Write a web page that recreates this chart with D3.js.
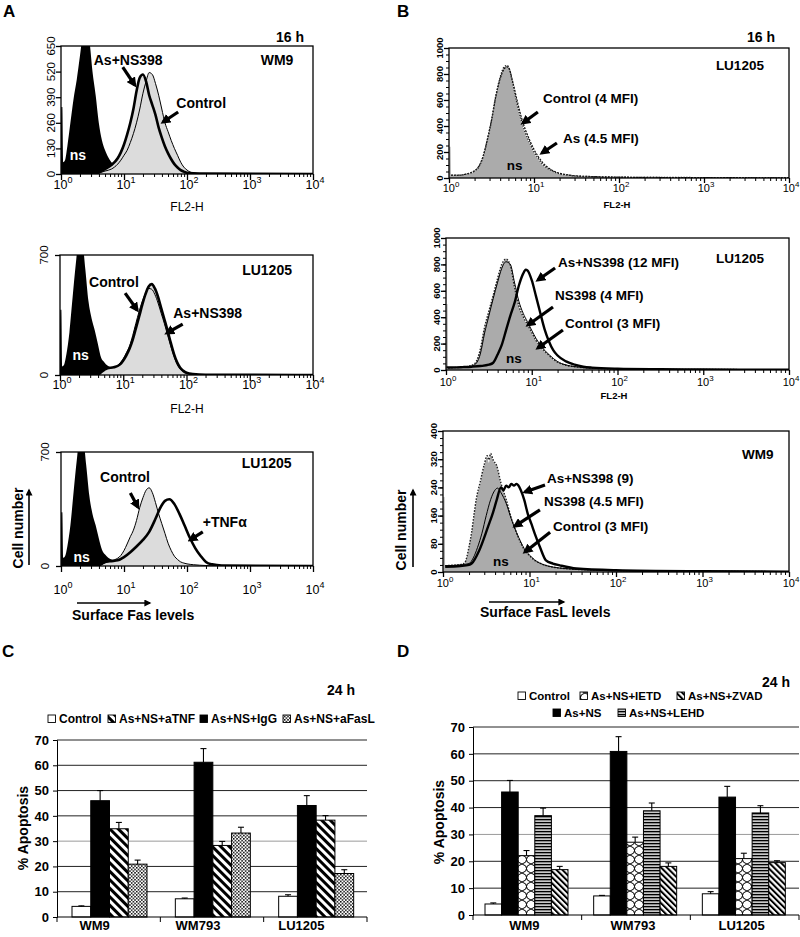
<!DOCTYPE html>
<html><head><meta charset="utf-8">
<script src="https://cdn.jsdelivr.net/npm/d3@7"></script>
<style>
body{margin:0;background:#fff}
svg{display:block}
text{font-family:"Liberation Sans",Arial,Helvetica,sans-serif}
</style>
</head><body>
<svg id="c" width="800" height="937"></svg>
<script>
// ---------------- DATA ----------------
// Flow cytometry histograms: [FL2-H value, cell count]
const a1_ns = [[1,0],[1.01,340],[1.05,340],[1.08,60],[1.16,70],[1.26,140],[1.41,260],[1.58,380],[1.78,480],[2.0,600],[2.24,720],[2.51,760],[2.82,680],[3.16,520],[3.55,400],[3.98,260],[4.47,170],[5.01,120],[5.62,85],[6.31,60],[7.08,45],[7.94,30],[8.91,20],[10,12],[11.2,6],[12.6,0]];
const a1_control = [[3.16,0],[3.98,5],[5.01,15],[6.31,25],[7.94,50],[8.91,70],[10,95],[11.2,120],[12.6,160],[14.1,205],[15.8,260],[17.8,330],[20,410],[22.4,470],[25.1,515],[28.2,505],[31.6,460],[35.5,400],[39.8,330],[44.7,260],[50.1,215],[56.2,170],[63.1,130],[70.8,95],[79.4,60],[89.1,35],[100,20],[112,10],[126,5],[158,2],[251,1],[10000,0]];
const a1_asns = [[3.16,0],[3.98,8],[5.01,25],[6.31,45],[7.94,80],[8.91,110],[10,150],[11.2,200],[12.6,260],[14.1,330],[15.8,420],[17.8,490],[20,505],[22.4,470],[25.1,400],[28.2,350],[31.6,300],[35.5,235],[39.8,185],[44.7,140],[50.1,105],[56.2,75],[63.1,50],[70.8,33],[79.4,20],[89.1,12],[100,6],[158,2],[10000,0]];

const a2_ns = [[1,0],[1.01,380],[1.05,380],[1.08,50],[1.16,60],[1.26,120],[1.41,250],[1.58,450],[1.78,650],[2.0,800],[2.24,780],[2.51,620],[2.82,430],[3.16,330],[3.55,260],[3.98,180],[4.47,100],[5.01,75],[5.62,55],[6.31,45],[7.08,38],[7.94,30],[8.91,20],[10,10],[11.2,0]];
const a2_control = [[3.98,0],[5.01,30],[5.62,40],[7.08,45],[8.91,70],[10,95],[11.2,130],[12.6,170],[14.1,230],[15.8,300],[17.8,370],[20,430],[22.4,475],[25.1,505],[28.2,500],[31.6,470],[35.5,420],[39.8,360],[44.7,300],[50.1,235],[56.2,170],[63.1,110],[70.8,65],[79.4,35],[89.1,20],[100,10],[126,4],[200,1],[10000,0]];
const a2_asns = [[3.98,0],[5.01,30],[5.62,40],[7.08,45],[8.91,62],[10,85],[11.2,115],[12.6,155],[14.1,205],[15.8,270],[17.8,340],[20,410],[22.4,470],[25.1,515],[28.2,530],[31.6,505],[35.5,455],[39.8,390],[44.7,325],[50.1,260],[56.2,190],[63.1,125],[70.8,75],[79.4,42],[89.1,24],[100,13],[126,5],[200,1],[10000,0]];

const a3_ns = [[1,0],[1.01,330],[1.05,330],[1.08,50],[1.16,60],[1.26,120],[1.41,250],[1.58,450],[1.78,650],[2.0,800],[2.24,780],[2.51,620],[2.82,430],[3.16,320],[3.55,250],[3.98,170],[4.47,100],[5.01,70],[5.62,50],[6.31,40],[7.08,35],[7.94,28],[8.91,18],[10,8],[11.2,0]];
const a3_control = [[3.98,0],[5.01,20],[6.31,30],[7.08,38],[8.91,65],[10,95],[11.2,135],[12.6,180],[14.1,220],[15.8,280],[17.8,360],[20,420],[22.4,465],[25.1,480],[28.2,450],[31.6,390],[35.5,320],[39.8,260],[44.7,200],[50.1,140],[56.2,95],[63.1,60],[70.8,40],[79.4,25],[89.1,18],[100,13],[126,8],[158,5],[200,3],[251,1],[10000,0]];
const a3_tnf = [[3.98,0],[5.01,25],[6.31,30],[7.94,35],[10,55],[12.6,85],[15.8,120],[20,160],[25.1,210],[31.6,290],[38,360],[44.7,400],[52.5,410],[63.1,380],[75.9,320],[91.2,250],[112,170],[135,110],[166,60],[200,25],[251,10],[355,3],[10000,0]];

const b1_ns = [[1,0],[1.01,240],[1.04,240],[1.06,20],[1.26,20],[1.58,28],[2.0,50],[2.24,80],[2.51,150],[2.82,280],[3.16,430],[3.55,620],[3.98,760],[4.47,850],[4.79,860],[5.01,850],[5.62,720],[6.31,560],[7.08,430],[7.94,330],[8.91,260],[10,190],[11.2,140],[12.6,100],[14.1,75],[15.8,55],[17.8,40],[20,30],[25.1,20],[31.6,14],[50.1,10],[100,6],[316,4],[1000,3],[10000,1]];
const b1_control = [[1.06,20],[1.26,20],[1.58,30],[2.0,55],[2.24,85],[2.51,160],[2.82,290],[3.16,440],[3.55,630],[3.98,770],[4.47,855],[4.79,865],[5.01,855],[5.62,730],[6.31,575],[7.08,445],[7.94,345],[8.91,270],[10,200],[11.2,150],[12.6,108],[14.1,80],[15.8,60],[17.8,44],[20,33],[25.1,22],[31.6,15],[50.1,10],[100,6],[316,4],[1000,3],[10000,1]];
const b1_as = [[1.06,22],[1.26,22],[1.58,30],[2.0,55],[2.24,90],[2.51,165],[2.82,295],[3.16,445],[3.55,625],[3.98,760],[4.47,840],[4.79,855],[5.01,850],[5.62,740],[6.31,600],[7.08,470],[7.94,370],[8.91,290],[10,220],[11.2,165],[12.6,120],[14.1,88],[15.8,65],[17.8,48],[20,36],[25.1,24],[31.6,16],[50.1,11],[100,7],[316,4],[1000,3],[10000,1]];

const b2_ns = [[1,0],[1.01,500],[1.04,500],[1.06,15],[1.26,18],[1.58,22],[2.0,35],[2.19,50],[2.51,150],[2.82,320],[3.16,440],[3.55,560],[3.98,680],[4.47,790],[5.01,835],[5.62,790],[6.31,620],[7.08,480],[7.94,400],[8.91,340],[10,280],[11.2,220],[12.6,175],[14.1,140],[15.8,110],[17.8,80],[20,58],[25.1,35],[31.6,24],[50.1,14],[100,8],[316,5],[1000,4],[10000,2]];
const b2_control = [[1.06,15],[1.26,18],[1.58,22],[2.0,36],[2.19,52],[2.51,155],[2.82,325],[3.16,445],[3.55,565],[3.98,690],[4.47,800],[5.01,840],[5.62,795],[6.31,625],[7.08,485],[7.94,405],[8.91,345],[10,285],[11.2,225],[12.6,180],[14.1,143],[15.8,112],[17.8,82],[20,60],[25.1,36],[31.6,25],[50.1,14],[100,8],[316,5],[1000,4],[10000,2]];
const b2_ns398 = [[1.06,15],[1.26,18],[1.58,22],[2.0,30],[2.19,42],[2.51,120],[2.82,280],[3.16,410],[3.55,540],[3.98,660],[4.47,770],[5.01,820],[5.62,800],[6.31,660],[7.08,520],[7.94,430],[8.91,365],[10,300],[11.2,240],[12.6,190],[14.1,150],[15.8,118],[17.8,88],[20,64],[25.1,38],[31.6,26],[50.1,15],[100,9],[316,5],[1000,4],[10000,2]];
const b2_asns = [[1.01,20],[1.26,20],[1.58,22],[2.0,25],[2.51,30],[3.16,40],[3.55,55],[3.98,115],[4.47,190],[5.01,300],[5.62,410],[6.31,510],[7.08,640],[7.94,730],[8.51,760],[8.91,755],[10,680],[11.2,560],[12.6,430],[14.1,310],[15.8,220],[17.8,150],[20,110],[25.1,65],[31.6,40],[39.8,25],[50.1,18],[100,10],[316,6],[1000,4],[10000,2]];

const b3_ns = [[1,0],[1.01,213],[1.04,213],[1.06,18],[1.26,19],[1.58,20],[1.78,24],[2.0,70],[2.14,109],[2.29,160],[2.43,204],[2.69,250],[3.0,300],[3.24,325],[3.39,310],[3.55,332],[3.8,315],[4.17,300],[4.68,250],[5.37,204],[6.17,150],[7.08,109],[7.94,80],[8.71,62],[10,45],[11.5,32],[13.2,24],[15.8,18],[18.6,14],[25.1,10],[50.1,6],[100,4],[1000,2],[10000,1]];
const b3_control = [[1.06,18],[1.26,19],[1.58,21],[1.78,26],[2.0,72],[2.14,112],[2.29,165],[2.43,208],[2.69,255],[3.0,305],[3.24,330],[3.39,318],[3.55,336],[3.8,318],[4.17,302],[4.68,252],[5.37,206],[6.17,152],[7.08,111],[7.94,82],[8.71,63],[10,46],[11.5,33],[13.2,25],[15.8,18],[18.6,14],[25.1,10],[50.1,6],[100,4],[1000,2],[10000,1]];
const b3_ns398 = [[1.06,18],[1.58,20],[2.0,24],[2.24,40],[2.51,70],[2.82,110],[3.16,160],[3.55,205],[3.98,232],[4.27,238],[4.68,225],[5.37,195],[6.17,150],[7.08,112],[7.94,85],[8.71,66],[10,48],[11.5,34],[13.2,25],[15.8,18],[18.6,14],[25.1,10],[50.1,6],[100,4],[1000,2],[10000,1]];
const b3_asns = [[1.06,15],[1.58,17],[2.0,20],[2.14,24],[2.63,62],[3.31,128],[3.8,170],[4.17,204],[4.68,240],[5.01,232],[5.37,245],[5.75,240],[6.17,250],[6.61,245],[7.08,250],[7.41,246],[7.94,232],[8.71,204],[9.55,165],[10.5,137],[11.5,109],[13.2,71],[15.5,33],[18.6,24],[22.4,19],[34.7,10],[100,5],[1000,2],[10000,1]];

const xDecades = [1,10,100,1000,10000];
const a1_yTicks = [0,130,260,390,520,650];
const a23_yTicks = [0,700];
const b12_yTicks = [0,200,400,600,800,1000];
const b3_yTicks = [0,80,160,240,320,400];

// Bar charts (% apoptosis)
const categories = ["WM9","WM793","LU1205"];
const cControl = [4.2,7.2,8.2],   cControlErr = [0.2,0.3,0.6];
const cIgG     = [46,61.2,44.1],  cIgGErr     = [4,5.4,3.9];
const cATNF    = [34.9,28.3,38.3],cATNFErr    = [2.5,1.6,1.8];
const cAFasL   = [20.9,33.2,17.2],cAFasLErr   = [1.6,2.3,1.5];

const dControl = [4.1,7.1,7.9],   dControlErr = [0.4,0.2,0.8];
const dAsNS    = [45.8,60.9,43.9],dAsNSErr    = [4.3,5.5,4.0];
const dIETD    = [22.1,27.1,21.0],dIETDErr    = [1.9,1.9,2.0];
const dLEHD    = [37.0,38.8,38.0],dLEHDErr    = [2.8,2.9,2.7];
const dZVAD    = [16.9,18.1,19.5],dZVADErr    = [1.2,1.3,0.7];
const pctTicks = [0,10,20,30,40,50,60,70];

// ---------------- DRAWING ----------------
const svg = d3.select("#c");
const defs = svg.append("defs");
defs.append("marker").attr("id","ah").attr("viewBox","0 0 10 10")
  .attr("refX",7).attr("refY",5).attr("markerWidth",10).attr("markerHeight",10)
  .attr("markerUnits","userSpaceOnUse").attr("orient","auto")
  .append("path").attr("d","M0,0 L10,5 L0,10 Z").attr("fill","#000");

function pattern(id,w,h,bg,transform,build){
  const p = defs.append("pattern").attr("id",id).attr("patternUnits","userSpaceOnUse")
    .attr("width",w).attr("height",h);
  if (transform) p.attr("patternTransform",transform);
  p.append("rect").attr("width",w).attr("height",h).attr("fill",bg);
  build(p);
}
pattern("pTNF",6,6,"#fff","rotate(-45)",p=>p.append("rect").attr("width",3).attr("height",6).attr("fill","#000"));
pattern("pDot",3.4,3.4,"#fff",null,p=>{
  p.append("rect").attr("x",0).attr("y",0).attr("width",1.5).attr("height",1.5).attr("fill","#000");
  p.append("rect").attr("x",1.7).attr("y",1.7).attr("width",1.5).attr("height",1.5).attr("fill","#000");
});
pattern("pIETD",9,9,"#fff",null,p=>p.append("path")
  .attr("d","M0,0 Q5,1.5 4.5,4.5 Q4,7.5 9,9 M9,0 Q4,1.5 4.5,4.5 Q5,7.5 0,9")
  .attr("fill","none").attr("stroke","#000").attr("stroke-width",1));
pattern("pHor",4,3,"#c8c8c8",null,p=>p.append("rect").attr("width",4).attr("height",1.3).attr("fill","#000"));
pattern("pZV",4.2,4.2,"#fff","rotate(-45)",p=>p.append("rect").attr("width",2).attr("height",4.2).attr("fill","#000"));

let clipN = 0;
function drawFlow(L, layers, notes, arrows){
  const x = d3.scaleLog().domain([1,1e4]).range([L.x0,L.x1]);
  const y = d3.scaleLinear().domain([0,L.ymax]).range([L.y1,L.y0]);
  const id = "clip"+(clipN++);
  defs.append("clipPath").attr("id",id).append("rect")
    .attr("x",L.x0).attr("y",L.y0).attr("width",L.x1-L.x0).attr("height",L.y1-L.y0);
  const g = svg.append("g");
  const pg = g.append("g").attr("clip-path",`url(#${id})`);
  const area = d3.area().x(d=>x(d[0])).y0(y(0)).y1(d=>y(d[1])).curve(d3.curveMonotoneX);
  const line = d3.line().x(d=>x(d[0])).y(d=>y(d[1])).curve(d3.curveMonotoneX);
  layers.filter(l=>l.fill).forEach(l=>pg.append("path").attr("d",area(l.data)).attr("fill",l.fill));
  layers.filter(l=>l.stroke).forEach(l=>pg.append("path").attr("d",line(l.data))
    .attr("fill","none").attr("stroke",l.stroke).attr("stroke-width",l.width)
    .attr("stroke-dasharray",l.dash||null).attr("stroke-linejoin","round"));
  g.append("rect").attr("x",L.x0).attr("y",L.y0).attr("width",L.x1-L.x0).attr("height",L.y1-L.y0)
    .attr("fill","none").attr("stroke","#000").attr("stroke-width",1.3);
  // x axis ticks
  const minor = x.ticks().filter(v=>!xDecades.includes(v));
  g.append("g").attr("transform",`translate(0,${L.y1})`)
    .call(d3.axisBottom(x).tickValues(minor).tickSize(L.minorLen).tickFormat(""))
    .call(s=>s.select(".domain").remove()).selectAll("line").attr("stroke-width",1);
  g.append("g").attr("transform",`translate(0,${L.y1})`)
    .call(d3.axisBottom(x).tickValues(xDecades).tickSize(L.majorLen).tickFormat(""))
    .call(s=>s.select(".domain").remove()).selectAll("line").attr("stroke-width",1.3);
  xDecades.forEach((v,i)=>{
    const t = g.append("text").attr("x",x(v)+2).attr("y",L.y1+L.xLabOff)
      .attr("text-anchor","middle").attr("font-size",L.tickFs).attr("fill","#000");
    t.append("tspan").text("10");
    t.append("tspan").attr("dy",-L.tickFs*0.45).attr("font-size",L.tickFs*0.72).text(i);
  });
  // y axis
  if (L.yMinor){
    g.append("g").attr("transform",`translate(${L.x0},0)`)
      .call(d3.axisLeft(y).tickValues(d3.range(0,L.ymax+0.1,L.yMinor)).tickSize(3).tickFormat(""))
      .call(s=>s.select(".domain").remove());
  }
  g.append("g").attr("transform",`translate(${L.x0},0)`)
    .call(d3.axisLeft(y).tickValues(L.yTicks).tickSize(5).tickFormat(""))
    .call(s=>s.select(".domain").remove()).selectAll("line").attr("stroke-width",1.3);
  L.yTicks.forEach(v=>{
    g.append("text").attr("transform",`translate(${L.x0-L.yLabOff},${y(v)}) rotate(-90)`)
      .attr("text-anchor","middle").attr("font-size",L.yFs).attr("font-weight",L.yFw)
      .text(v);
  });
  if (L.fl2h){
    g.append("text").attr("x",L.fl2h[0]).attr("y",L.fl2h[1]).attr("text-anchor","middle")
      .attr("font-size",L.fl2hFs).attr("font-weight",L.fl2hFw).text("FL2-H");
  }
  notes.forEach(n=>{
    g.append("text").attr("x",x(n.x)).attr("y",y(n.y)).attr("font-size",n.fs||L.noteFs)
      .attr("font-weight","bold").attr("fill",n.fill||"#000").text(n.t);
  });
  arrows.forEach(a=>{
    g.append("line").attr("x1",x(a[0][0])).attr("y1",y(a[0][1]))
      .attr("x2",x(a[1][0])).attr("y2",y(a[1][1]))
      .attr("stroke","#000").attr("stroke-width",3.2).attr("marker-end","url(#ah)");
  });
}

const baseA = {minorLen:3, majorLen:6, tickFs:12.5, yFs:11.5, yFw:"normal", noteFs:14, fl2hFs:12, fl2hFw:"normal"};
const baseB = {minorLen:3, majorLen:5, tickFs:11, yFs:9.5, yFw:"bold", noteFs:13.5, fl2hFs:9.5, fl2hFw:"bold", xLabOff:14, yLabOff:6};

// Panel A1
drawFlow(Object.assign({},baseA,{x0:61,x1:313,y0:46,y1:174,ymax:650,yTicks:a1_yTicks,xLabOff:15,yLabOff:6,fl2h:[187,211]}),
  [{data:a1_ns,fill:"#000"},{data:a1_control,fill:"#dcdcdc"},{data:a1_asns,fill:"#dcdcdc"},
   {data:a1_control,stroke:"#000",width:1},{data:a1_asns,stroke:"#000",width:2.6}],
  [{t:"As+NS398",x:3.31,y:553},{t:"Control",x:67.6,y:335},{t:"WM9",x:1479,y:553},{t:"ns",x:1.38,y:71,fill:"#fff"}],
  [[[9.55,543],[14.8,452]],[[72.4,315],[41.7,264]]]);
// Panel A2
drawFlow(Object.assign({},baseA,{x0:60,x1:313,y0:255,y1:375,ymax:700,yTicks:a23_yTicks,xLabOff:14,yLabOff:12,fl2h:[187,413]}),
  [{data:a2_ns,fill:"#000"},{data:a2_control,fill:"#dcdcdc"},{data:a2_asns,fill:"#dcdcdc"},
   {data:a2_control,stroke:"#000",width:1},{data:a2_asns,stroke:"#000",width:2.6}],
  [{t:"Control",x:2.88,y:513},{t:"As+NS398",x:61.7,y:332},{t:"LU1205",x:759,y:583},{t:"ns",x:1.58,y:88,fill:"#fff"}],
  [[[10.7,478],[16.6,379]],[[87.1,297],[49,245]]]);
// Panel A3
drawFlow(Object.assign({},baseA,{x0:61,x1:313,y0:452,y1:566,ymax:700,yTicks:a23_yTicks,xLabOff:28,yLabOff:12,fl2h:null}),
  [{data:a3_ns,fill:"#000"},{data:a3_control,fill:"#dcdcdc"},
   {data:a3_control,stroke:"#000",width:1},{data:a3_tnf,stroke:"#000",width:2.6}],
  [{t:"Control",x:4.17,y:516},{t:"+TNFα",x:178,y:239},{t:"LU1205",x:741,y:602},{t:"ns",x:1.58,y:25,fill:"#fff"}],
  [[[12.6,448],[16.6,362]],[[178,209],[112,160]]]);
// Panel B1
drawFlow(Object.assign({},baseB,{x0:449,x1:789,y0:48,y1:178,ymax:1000,yTicks:b12_yTicks,yMinor:50,fl2h:[617,208]}),
  [{data:b1_ns,fill:"#ababab"},{data:b1_as,stroke:"#111",width:1.2,dash:"2,1.2"},{data:b1_control,stroke:"#222",width:1.4,dash:"1.4,1.4"}],
  [{t:"Control (4 MFI)",x:12.8,y:577},{t:"As (4.5 MFI)",x:21.9,y:269},{t:"LU1205",x:1380,y:831},{t:"ns",x:4.79,y:62}],
  [[[11.1,508],[7.41,423]],[[18.6,269],[12.4,192]]]);
// Panel B2
drawFlow(Object.assign({},baseB,{x0:446,x1:789,y0:238,y1:370,ymax:1000,yTicks:b12_yTicks,yMinor:50,xLabOff:16,fl2h:[614,399]}),
  [{data:b2_ns,fill:"#ababab"},{data:b2_control,stroke:"#222",width:1.4,dash:"1.6,1.4"},{data:b2_ns398,stroke:"#000",width:1},{data:b2_asns,stroke:"#000",width:2.4}],
  [{t:"As+NS398 (12 MFI)",x:20.2,y:780},{t:"NS398 (4 MFI)",x:18.7,y:530},{t:"Control (3 MFI)",x:24.4,y:318},{t:"LU1205",x:1409,y:811},{t:"ns",x:5.01,y:53}],
  [[[18.7,773],[11.8,682]],[[17.7,477],[9.04,341]],[[23.1,303],[11.8,167]]]);
// Panel B3
drawFlow(Object.assign({},baseB,{x0:443,x1:789,y0:431,y1:572,ymax:400,yTicks:b3_yTicks,yMinor:20,xLabOff:15,fl2h:null}),
  [{data:b3_ns,fill:"#ababab"},{data:b3_control,stroke:"#222",width:1.4,dash:"1.6,1.4"},{data:b3_ns398,stroke:"#000",width:1},{data:b3_asns,stroke:"#000",width:2.4}],
  [{t:"As+NS398 (9)",x:15.9,y:252},{t:"NS398 (4.5 MFI)",x:14.7,y:187},{t:"Control (3 MFI)",x:18.7,y:116},{t:"WM9",x:2864,y:321},{t:"ns",x:3.78,y:17}],
  [[[15.1,247],[8.87,227]],[[13.2,176],[6.79,130]],[[17.3,113],[8.87,57]]]);

// Panel letters, time labels, axis titles
function txt(x,y,s,fs,opt={}){
  const t = svg.append("text").attr("x",x).attr("y",y).attr("font-size",fs)
    .attr("font-weight",opt.w||"bold").attr("text-anchor",opt.a||"start").text(s);
  if (opt.rot) t.attr("transform",`rotate(-90,${x},${y})`);
  return t;
}
txt(3,17,"A",17); txt(397,17,"B",17); txt(2,657,"C",17); txt(397,657,"D",17);
txt(304,42,"16 h",14,{a:"end"}); txt(775,42,"16 h",14,{a:"end"});
txt(23,528,"Cell number",14,{a:"middle",rot:true});
txt(406,530,"Cell number",14,{a:"middle",rot:true});
txt(72,620,"Surface Fas levels",14);
txt(480,617,"Surface FasL levels",14);
function plainArrow(x1,y1,x2,y2){
  svg.append("line").attr("x1",x1).attr("y1",y1).attr("x2",x2).attr("y2",y2)
    .attr("stroke","#000").attr("stroke-width",1.6).attr("marker-end","url(#ahs)");
}
defs.append("marker").attr("id","ahs").attr("viewBox","0 0 10 10")
  .attr("refX",8).attr("refY",5).attr("markerWidth",8).attr("markerHeight",7)
  .attr("markerUnits","userSpaceOnUse").attr("orient","auto")
  .append("path").attr("d","M0,0 L10,5 L0,10 Z").attr("fill","#000");
plainArrow(29,565,29,490); plainArrow(77,603,150,603);
plainArrow(413,567,413,490); plainArrow(489,602,564,602);

// ---------------- BAR CHARTS ----------------
function drawBars(L, series, legend){
  const x0 = d3.scaleBand().domain(categories).range([L.left,L.right]);
  const x1 = d3.scaleBand().domain(series.map(s=>s.key)).range([L.inL,L.inR]);
  const y = d3.scaleLinear().domain([0,70]).range([L.bottom,L.top]);
  const g = svg.append("g");
  pctTicks.filter(v=>v>0).forEach(v=>{
    g.append("line").attr("x1",L.left).attr("x2",L.right).attr("y1",y(v)).attr("y2",y(v))
      .attr("stroke",v===30?"#9a9a9a":"#222").attr("stroke-width",1);
  });
  series.forEach(s=>{
    categories.forEach((c,i)=>{
      const bx = x0(c)+x1(s.key), bw = x1.bandwidth();
      g.append("rect").attr("x",bx).attr("y",y(s.v[i])).attr("width",bw).attr("height",y(0)-y(s.v[i]))
        .attr("fill",s.fill).attr("stroke","#000").attr("stroke-width",1);
      const cx = bx+bw/2, yt = y(s.v[i]+s.e[i]);
      g.append("line").attr("x1",cx).attr("x2",cx).attr("y1",y(s.v[i])).attr("y2",yt).attr("stroke","#000").attr("stroke-width",1.1);
      g.append("line").attr("x1",cx-3).attr("x2",cx+3).attr("y1",yt).attr("y2",yt).attr("stroke","#000").attr("stroke-width",1.1);
    });
  });
  // axes
  g.append("g").attr("transform",`translate(${L.left},0)`)
    .call(d3.axisLeft(y).tickValues(pctTicks).tickSize(4).tickFormat(d3.format("d")))
    .call(s=>{s.select(".domain").attr("stroke-width",1);
      s.selectAll("text").attr("font-size",13).attr("font-weight","bold").attr("fill","#000")
       .attr("font-family","Liberation Sans, Arial, sans-serif").attr("dx",-1);});
  g.append("line").attr("x1",L.left).attr("x2",L.right).attr("y1",y(0)).attr("y2",y(0)).attr("stroke","#000").attr("stroke-width",1.2);
  const bounds = categories.map(c=>x0(c)).concat([L.right]);
  bounds.forEach(b=>g.append("line").attr("x1",b).attr("x2",b).attr("y1",y(0)).attr("y2",y(0)+5).attr("stroke","#000"));
  categories.forEach(c=>{
    g.append("text").attr("x",x0(c)+x0.bandwidth()/2+L.labDx).attr("y",L.labY)
      .attr("text-anchor","middle").attr("font-size",13).attr("font-weight","bold").text(c);
  });
  g.append("text").attr("transform",`translate(${L.yTitleX},${L.yTitleY}) rotate(-90)`)
    .attr("text-anchor","middle").attr("font-size",14).attr("font-weight","bold").text("% Apoptosis");
  legend.forEach(it=>{
    const s = series.find(d=>d.key===it.key);
    g.append("rect").attr("x",it.x).attr("y",it.y-8).attr("width",7.5).attr("height",7.5)
      .attr("fill",s.fill).attr("stroke","#000").attr("stroke-width",0.9);
    g.append("text").attr("x",it.x+11).attr("y",it.y).attr("font-size",L.legFs).attr("font-weight","bold").text(it.key);
  });
}

drawBars({left:57,right:367,inL:15,inR:90,top:740,bottom:917,labY:930,labDx:-14,yTitleX:28,yTitleY:828,legFs:12},
  [{key:"Control",v:cControl,e:cControlErr,fill:"#fff"},
   {key:"As+NS+IgG",v:cIgG,e:cIgGErr,fill:"#000"},
   {key:"As+NS+aTNF",v:cATNF,e:cATNFErr,fill:"url(#pTNF)"},
   {key:"As+NS+aFasL",v:cAFasL,e:cAFasLErr,fill:"url(#pDot)"}],
  [{key:"Control",x:48,y:723},{key:"As+NS+aTNF",x:108,y:723},{key:"As+NS+IgG",x:200,y:723},{key:"As+NS+aFasL",x:283,y:723}]);
txt(327,695,"24 h",14);

drawBars({left:473,right:799,inL:12,inR:95,top:727,bottom:915,labY:930,labDx:-3,yTitleX:444,yTitleY:822,legFs:11.5},
  [{key:"Control",v:dControl,e:dControlErr,fill:"#fff"},
   {key:"As+NS",v:dAsNS,e:dAsNSErr,fill:"#000"},
   {key:"As+NS+IETD",v:dIETD,e:dIETDErr,fill:"url(#pIETD)"},
   {key:"As+NS+LEHD",v:dLEHD,e:dLEHDErr,fill:"url(#pHor)"},
   {key:"As+NS+ZVAD",v:dZVAD,e:dZVADErr,fill:"url(#pZV)"}],
  [{key:"Control",x:518,y:700},{key:"As+NS+IETD",x:580,y:700},{key:"As+NS+ZVAD",x:677,y:700},
   {key:"As+NS",x:553,y:717},{key:"As+NS+LEHD",x:618,y:717}]);
txt(762,687,"24 h",14);
</script>
</body></html>
